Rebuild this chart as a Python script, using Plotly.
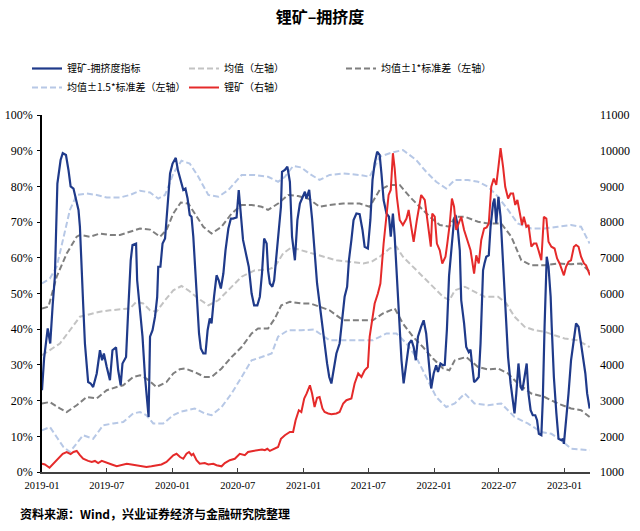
import pandas as pd
import plotly.graph_objects as go

# ---------------- data (x = days since 2019-01-01, weekly series) ----------------
base_date = "2019-01-01"

crowd_day = [0, 6, 16, 23, 30, 36, 43, 46, 52, 58, 67, 74, 80, 88, 95, 102, 106, 111, 115, 120,
             125, 129, 136, 143, 153, 162, 168, 173, 181, 190, 197, 207, 213, 220, 225, 235, 241,
             248, 253, 263, 266, 274, 281, 288, 292, 298, 302, 309, 316, 322, 325, 331, 337, 344,
             348, 353, 358, 365, 374, 380, 388, 395, 401, 407, 413, 418, 423, 429, 435, 439, 444,
             451, 457, 463, 469, 474, 481, 488, 494, 500, 507, 513, 521, 528, 534, 544, 550, 556,
             562, 572, 578, 586, 593, 602, 609, 615, 621, 628, 632, 637, 644, 649, 656, 662, 668,
             671, 679, 686, 693, 699, 707, 714, 721, 727, 735, 739, 747, 755, 762, 769, 776, 784,
             790, 797, 803, 809, 816, 823, 832, 840, 846, 853, 858, 865, 871, 879, 888, 896, 902,
             911, 918, 924, 930, 937, 944, 949, 955, 963, 970, 975, 981, 986, 991, 998, 1005, 1011,
             1019, 1026, 1033, 1039, 1045, 1051, 1060, 1067, 1074, 1082, 1088, 1095, 1102, 1107,
             1114, 1121, 1126, 1132, 1138, 1146, 1152, 1156, 1161, 1168, 1172, 1180, 1186, 1193,
             1198, 1202, 1208, 1214, 1221, 1226, 1233, 1237, 1242, 1249, 1254, 1261, 1265, 1270,
             1276, 1282, 1289, 1295, 1303, 1310, 1317, 1321, 1326, 1332, 1338, 1343, 1349, 1355,
             1360, 1366, 1372, 1379, 1384, 1389, 1396, 1400, 1405, 1411, 1416, 1422, 1425, 1431,
             1438, 1444, 1452, 1456, 1459, 1465, 1472, 1479, 1487, 1493, 1500, 1507, 1512, 1519,
             1524, 1531]
crowd_pct = [22.9, 32, 40.2, 36, 47, 54.7, 80.8, 82.7, 87.4, 89.3, 88.8, 84.6, 80, 79.4, 76, 73.4,
             68.7, 54.7, 47.2, 36, 28.5, 25.2, 24.8, 23.8, 27.6, 34.1, 31.3, 33.2, 29.4, 25.7, 34.1,
             34.9, 28.5, 24.3, 30.4, 32.2, 45.3, 59.3, 63.6, 64, 53.7, 46.3, 37.9, 26.6, 21, 15.4,
             37.9, 39.7, 43.5, 49, 57.5, 57.5, 64, 65.4, 70.6, 76.2, 83.6, 86.4, 88, 84.5, 81.3,
             79, 79.4, 76.6, 72, 71.5, 65.9, 54.7, 45.3, 38.8, 34.6, 33.2, 33.2, 39.7, 43, 41.6,
             49.1, 55.1, 53.7, 51.4, 55.6, 62.1, 68.2, 71, 71, 71.3, 79, 72.4, 65, 60.3, 57.5, 50,
             46.7, 46.7, 49.1, 55.6, 65.4, 64, 56.5, 52.8, 51.9, 53.7, 62.1, 66.8, 74.3, 84.1, 84.6,
             85.5, 81.3, 65.9, 59.3, 70.6, 75.2, 76.6, 78.5, 76.6, 79, 71, 61, 52.8, 47.2, 41.6, 36,
             30.4, 26.6, 24.8, 28.5, 33.2, 36, 43.5, 49.1, 51.9, 59.3, 65, 70.6, 72.4, 72.2, 67.8,
             63.1, 62.6, 70.6, 81.8, 86.4, 89.7, 88.8, 83.6, 76.2, 72.4, 71.5, 65.9, 72.4, 65.9,
             56.5, 40.7, 31.3, 24.8, 30.4, 36, 36.9, 35, 31.3, 37.9, 40.7, 42.5, 38.8, 28.5, 23.4,
             27.6, 29.9, 28, 30.4, 29.9, 30, 40, 55, 64, 70.6, 72, 69.6, 62.1, 48.1, 41.6, 35, 33.6,
             34.3, 30.4, 25.2, 25.7, 26.6, 36, 56.5, 58.4, 60.3, 60.7, 68.7, 75.2, 76.6, 69.6, 77.1,
             71.5, 59.3, 45.3, 32.2, 24.8, 19.2, 16.4, 22, 30.4, 23.8, 22.9, 26.6, 30.4, 22, 17.3,
             15.9, 15.9, 14.5, 10.7, 10.3, 20.1, 40.7, 60.3, 57.5, 49.1, 40.7, 26.6, 16.4, 9.3, 8.9,
             9.3, 7.9, 13.6, 22, 31.3, 36.9, 41.6, 40.7, 36, 33.2, 27.6, 22, 17.8]

mean_day = [0, 22, 50, 78, 106, 134, 162, 190, 218, 246, 264, 283, 302, 320, 344, 367, 390, 409,
            437, 465, 493, 521, 558, 595, 632, 651, 674, 697, 725, 750, 786, 823, 860, 898, 921,
            944, 972, 991, 1009, 1037, 1065, 1093, 1121, 1139, 1154, 1182, 1209, 1237, 1275, 1298,
            1321, 1349, 1377, 1405, 1433, 1461, 1498, 1531]
mean_pct = [32.7, 34.1, 36, 39.7, 43.5, 44.2, 44.9, 45.3, 45.5, 45.8, 47.7, 47.2, 45.3, 44.9, 48.1,
            50.9, 52.1, 50.9, 48.6, 46.7, 48.1, 50.9, 54.7, 56.5, 56.7, 57.5, 61.2, 62.9, 62.1,
            61.3, 60.3, 59.3, 58.9, 58.4, 58.9, 60.3, 62.6, 63.1, 60.3, 57.5, 54.7, 51.9, 49.1,
            48.1, 50.9, 51.9, 50.5, 49.1, 49.1, 47.2, 43.5, 40.7, 39.7, 39.3, 38.3, 37.4, 36.9, 35]

sd1_day = [0, 18, 41, 69, 97, 106, 134, 162, 190, 218, 246, 274, 302, 330, 348, 367, 388, 409, 427,
           451, 474, 502, 530, 558, 586, 614, 632, 660, 688, 716, 746, 776, 804, 842, 888, 916, 944,
           972, 1000, 1028, 1056, 1084, 1112, 1139, 1154, 1182, 1219, 1247, 1284, 1312, 1340, 1368,
           1405, 1442, 1479, 1507, 1531]
sd1_up_pct = [45.8, 46.3, 54.7, 61.2, 65.9, 66.4, 65.9, 66.8, 66.4, 66.4, 67.3, 68.2, 67.9, 65.9,
              67.8, 72.4, 75.5, 75.2, 72.4, 68.7, 66.8, 68.7, 72.4, 74.8, 74.8, 74.3, 73.4, 75.2,
              77.6, 77.3, 76.5, 74.3, 74.8, 75.2, 75.2, 74.3, 79, 80.4, 80.4, 77.1, 74.3, 71.5,
              69.2, 68.7, 71.5, 71.5, 70.1, 69.6, 69.6, 65.9, 59.3, 57.9, 57.9, 58.4, 58.2, 58.4,
              56.1]

sd1_lo_day = [0, 22, 50, 69, 97, 125, 153, 181, 209, 227, 255, 274, 292, 320, 348, 367, 385, 399,
              427, 455, 474, 502, 530, 558, 586, 604, 632, 651, 669, 693, 725, 750, 776, 804, 842,
              888, 925, 953, 986, 1009, 1037, 1065, 1093, 1121, 1139, 1154, 1186, 1219, 1247, 1275,
              1303, 1330, 1368, 1405, 1442, 1479, 1507, 1531]
sd1_lo_pct = [19.2, 19.6, 17.8, 16.8, 18.7, 21, 20.6, 22.9, 23.8, 24.3, 26.6, 27.1, 26.2, 23.8,
              25.2, 27.6, 28.8, 29, 28, 26.6, 26.6, 29, 32.2, 35, 38.8, 40.2, 40.2, 43, 46.7, 47.7,
              47.2, 47.2, 46.3, 45.3, 42.5, 42.5, 42.5, 44.4, 45.8, 41.6, 37.9, 35, 31.8, 29, 28.5,
              31.3, 32.2, 29.4, 28.7, 29, 27.6, 24.8, 22, 21, 19.2, 17.8, 17.3, 15.4]

sd15_up_day = [0, 22, 41, 60, 78, 97, 125, 153, 181, 218, 246, 274, 302, 325, 344, 367, 390, 413,
               437, 465, 493, 521, 558, 595, 632, 660, 679, 702, 725, 750, 776, 804, 842, 888, 916,
               944, 972, 1009, 1046, 1074, 1102, 1130, 1154, 1191, 1219, 1247, 1275, 1303, 1330,
               1368, 1405, 1442, 1479, 1507, 1531]
sd15_up_pct = [52.8, 54.2, 57.5, 65.9, 73.4, 77.6, 78, 77.6, 76.9, 76.9, 77.6, 78.8, 78.3, 76.6,
               77.6, 83.6, 87.2, 86.4, 82.7, 77.6, 77.1, 79, 83.2, 83.2, 82.7, 81.3, 82.7, 85.7,
               85.3, 83.4, 81.8, 83.2, 83.6, 83.2, 82.7, 88.3, 89.3, 90.2, 87.4, 84.1, 81.3, 79.4,
               81.8, 81.8, 81.3, 79.9, 77.1, 73.4, 69.6, 68.2, 68.2, 68.7, 69.2, 68.7, 64]

sd15_lo_day = [0, 22, 41, 60, 78, 97, 115, 143, 171, 199, 227, 255, 274, 292, 311, 339, 367, 385,
               399, 427, 455, 474, 502, 530, 558, 586, 614, 642, 660, 688, 725, 760, 776, 804, 842,
               888, 925, 963, 991, 1019, 1046, 1074, 1102, 1130, 1154, 1182, 1209, 1247, 1284, 1321,
               1358, 1396, 1424, 1452, 1479, 1507, 1531]
sd15_lo_pct = [11.7, 12.6, 9.8, 7, 5.6, 7.9, 10.3, 9.3, 13.1, 13.6, 14, 16.4, 16.8, 15.9, 13.6,
               13.6, 15.9, 16.8, 17.1, 17.8, 16.4, 15.9, 18.2, 22, 26.6, 31.3, 32.2, 33.2, 37.9,
               39.7, 39.7, 39.9, 38.8, 36.9, 36.9, 36.9, 36.9, 38.8, 38.8, 36, 32.2, 26.6, 21, 18.2,
               19.2, 22, 19.2, 18.7, 19.2, 15.4, 13.6, 11.2, 10.7, 8.9, 6.5, 6.3, 6.1]

ore_day = [0, 8, 21, 32, 46, 58, 69, 80, 88, 97, 106, 115, 129, 139, 148, 157, 167, 181, 195, 209,
           223, 237, 250, 264, 278, 292, 306, 320, 334, 348, 358, 367, 376, 386, 395, 404, 411, 418,
           423, 432, 441, 455, 465, 479, 488, 502, 511, 525, 539, 553, 567, 576, 590, 604, 615, 623,
           630, 637, 649, 660, 668, 679, 693, 702, 709, 718, 725, 733, 740, 749, 755, 762, 769, 776,
           784, 790, 800, 809, 823, 832, 842, 851, 865, 874, 884, 893, 902, 911, 916, 924, 930, 939,
           946, 955, 963, 969, 975, 981, 986, 992, 1000, 1009, 1019, 1025, 1033, 1039, 1048, 1060,
           1070, 1076, 1082, 1087, 1091, 1098, 1104, 1112, 1119, 1128, 1133, 1140, 1146, 1152,
           1158, 1165, 1172, 1180, 1189, 1198, 1208, 1214, 1221, 1228, 1236, 1243, 1249, 1256,
           1263, 1270, 1276, 1282, 1289, 1295, 1303, 1310, 1317, 1323, 1329, 1335, 1342, 1347,
           1354, 1360, 1368, 1375, 1382, 1388, 1396, 1403, 1410, 1416, 1424, 1433, 1440, 1447,
           1453, 1459, 1465, 1472, 1479, 1487, 1493, 1500, 1507, 1515, 1521, 1526, 1532]
ore_price = [1230, 1210, 1120, 1230, 1370, 1510, 1560, 1500, 1560, 1590, 1470, 1370, 1310, 1280,
             1310, 1250, 1310, 1250, 1210, 1160, 1190, 1230, 1210, 1190, 1160, 1140, 1160, 1190,
             1210, 1280, 1370, 1470, 1510, 1420, 1370, 1510, 1560, 1470, 1510, 1330, 1230, 1250,
             1210, 1230, 1190, 1160, 1250, 1330, 1370, 1510, 1470, 1560, 1590, 1610, 1630, 1610,
             1650, 1590, 1650, 1700, 1930, 2030, 2120, 2120, 2450, 2730, 2680, 3060, 3200, 3430,
             3200, 2820, 3080, 3100, 2780, 2680, 2640, 2620, 2640, 2680, 2920, 3010, 3060, 3480,
             3760, 3660, 3850, 3940, 4790, 5350, 5720, 6000, 6280, 7400, 8240, 8760, 8900, 9930,
             9500, 8710, 8060, 7920, 8100, 8340, 7820, 7450, 8060, 8760, 8620, 8150, 7590, 7310,
             8240, 8150, 7400, 7210, 6840, 7030, 7400, 7960, 8660, 8430, 7780, 7960, 8150, 7780,
             7500, 7210, 6560, 7070, 6840, 7500, 7820, 7850, 7960, 8990, 9220, 9040, 9550, 10070,
             9550, 8990, 8660, 8800, 8800, 8480, 8620, 8340, 7920, 8150, 7870, 7920, 7310, 7400,
             7400, 7210, 6930, 8150, 8100, 7450, 7310, 7260, 6980, 6840, 6650, 6510, 6750, 6890,
             6930, 7310, 7360, 7310, 7030, 6840, 6790, 6650, 6510]

x_tick_dates = ["2019-01-01", "2019-07-01", "2020-01-01", "2020-07-01", "2021-01-01",
                "2021-07-01", "2022-01-01", "2022-07-01", "2023-01-01"]
x_end_day = 1532

left_ticks = [0, 0.1, 0.2, 0.3, 0.4, 0.5, 0.6, 0.7, 0.8, 0.9, 1.0]
right_ticks = [1000, 2000, 3000, 4000, 5000, 6000, 7000, 8000, 9000, 10000, 11000]


def to_dates(days):
    return pd.Timestamp(base_date) + pd.to_timedelta(days, unit="D")


def frac(p):
    return [v / 100 for v in p]


BLUE = "#1f3a8a"
RED = "#e52a2a"
MEAN_C = "#c3c3c3"
SD1_C = "#7f7f7f"
SD15_C = "#b7c8e6"
DASH = "6px,3px"
SERIF = "Liberation Serif, Times New Roman, serif"
CJK = "Noto Sans CJK SC, sans-serif"

W, H = 640, 531

fig = go.Figure()

fig.add_trace(go.Scatter(x=to_dates(mean_day), y=frac(mean_pct), mode="lines",
                         name="均值（左轴）", legendrank=2,
                         line=dict(color=MEAN_C, width=2, dash=DASH)))
fig.add_trace(go.Scatter(x=to_dates(sd1_day), y=frac(sd1_up_pct), mode="lines",
                         name="均值±1*标准差（左轴）", legendgroup="sd1", legendrank=3,
                         line=dict(color=SD1_C, width=2, dash=DASH)))
fig.add_trace(go.Scatter(x=to_dates(sd1_lo_day), y=frac(sd1_lo_pct), mode="lines",
                         name="均值±1*标准差（左轴）", legendgroup="sd1", showlegend=False,
                         line=dict(color=SD1_C, width=2, dash=DASH)))
fig.add_trace(go.Scatter(x=to_dates(sd15_up_day), y=frac(sd15_up_pct), mode="lines",
                         name="均值±1.5*标准差（左轴）", legendgroup="sd15", legendrank=4,
                         line=dict(color=SD15_C, width=2, dash=DASH)))
fig.add_trace(go.Scatter(x=to_dates(sd15_lo_day), y=frac(sd15_lo_pct), mode="lines",
                         name="均值±1.5*标准差（左轴）", legendgroup="sd15", showlegend=False,
                         line=dict(color=SD15_C, width=2, dash=DASH)))
fig.add_trace(go.Scatter(x=to_dates(crowd_day), y=frac(crowd_pct), mode="lines",
                         name="锂矿-拥挤度指标", legendrank=1,
                         line=dict(color=BLUE, width=2.2)))
fig.add_trace(go.Scatter(x=to_dates(ore_day), y=ore_price, mode="lines", yaxis="y2",
                         name="锂矿（右轴）", legendrank=5,
                         line=dict(color=RED, width=2)))

fig.update_layout(
    width=W, height=H,
    margin=dict(l=42, r=50, t=115, b=59, autoexpand=False),
    paper_bgcolor="white", plot_bgcolor="white",
    showlegend=True,
    title=dict(text="<b>锂矿–拥挤度</b>", x=0.5, xref="container", xanchor="center",
               y=1 - 17 / H, yref="container", yanchor="middle",
               font=dict(family=CJK, size=16, color="#000000")),
    legend=dict(orientation="h", xref="container", yref="container",
                x=27 / W, y=1 - 54 / H, xanchor="left", yanchor="top",
                entrywidth=112, entrywidthmode="pixels", traceorder="normal",
                font=dict(family=CJK, size=10, color="#000000"),
                bgcolor="rgba(0,0,0,0)", itemwidth=30),
    xaxis=dict(type="date", range=[to_dates([0])[0], to_dates([x_end_day])[0]],
               tickvals=x_tick_dates, tickformat="%Y-%m",
               showline=True, linecolor="#404040", linewidth=1.5,
               ticks="inside", ticklen=4, tickcolor="#404040",
               ticklabelstandoff=3,
               showgrid=False, zeroline=False,
               tickfont=dict(family=SERIF, size=10.5, color="#000000")),
    yaxis=dict(range=[0, 1], tickvals=left_ticks, tickformat=".0%",
               showline=True, linecolor="#000000", linewidth=1.5,
               ticks="outside", ticklen=3, tickcolor="#000000",
               ticklabelstandoff=2,
               showgrid=False, zeroline=False,
               tickfont=dict(family=SERIF, size=12, color="#000000")),
    yaxis2=dict(range=[1000, 11000], tickvals=right_ticks, tickformat="d",
                overlaying="y", side="right", ticklabelstandoff=9,
                showline=False, ticks="", showgrid=False, zeroline=False,
                tickfont=dict(family=SERIF, size=12, color="#000000")),
    annotations=[dict(text="<b>资料来源：Wind，兴业证券经济与金融研究院整理</b>",
                      xref="paper", yref="paper", x=(18 - 42) / 548, y=(471.7 - 513) / 356.7,
                      xanchor="left", yanchor="middle", showarrow=False,
                      font=dict(family=CJK, size=12, color="#000000"))],
)

# remove the browser's default 8px page margin so the 640x531 figure fills the window
fig.write_html("out.html", config={"displayModeBar": False},
               post_script="document.body.style.margin='0px';document.body.style.overflow='hidden';")
